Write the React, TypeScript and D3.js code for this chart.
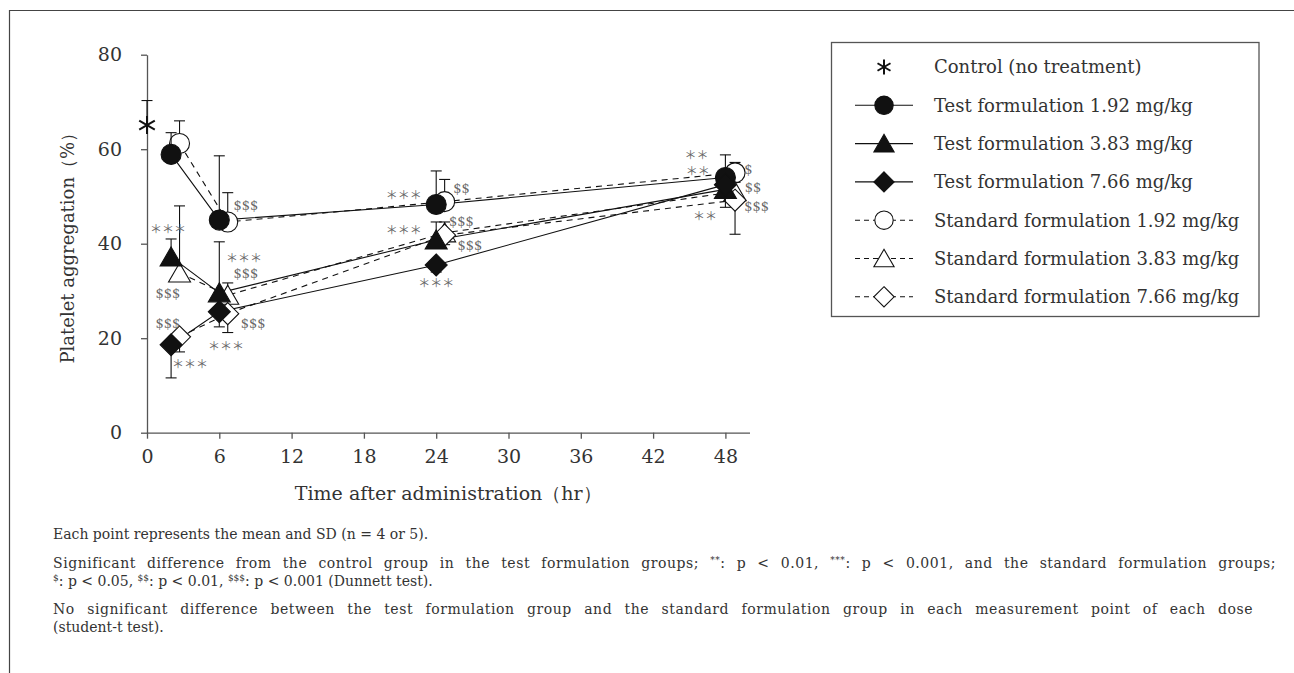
import React, { useEffect, useRef } from "react";
import * as d3 from "d3";

// time points (hr); standard formulation plotted slightly offset to the right
const testTimes = [2, 6, 24, 48];
const stdTimes = [2.7, 6.7, 24.7, 48.8];

const xTicks = [0, 6, 12, 18, 24, 30, 36, 42, 48];
const yTicks = [0, 20, 40, 60, 80];

const controlTime = 0;
const controlMean = 65.1;
const controlSD = 5.2;

// mean and SD for each group
const test192Mean = [58.9, 45.0, 48.3, 54.0];
const test192SD = [4.6, 13.6, 7.1, 4.8];
const test383Mean = [37.2, 29.6, 40.8, 51.5];
const test383SD = [3.8, 10.8, 3.8, 2.0];
const test766Mean = [18.6, 25.6, 35.5, 52.5];
const test766SD = [7.0, 3.2, 1.5, 4.8];
const std192Mean = [61.2, 44.6, 48.9, 55.0];
const std192SD = [4.8, 6.2, 4.7, 2.2];
const std383Mean = [33.8, 29.1, 42.3, 51.0];
const std383SD = [14.2, 2.6, 2.3, 2.0];
const std766Mean = [20.3, 25.2, 41.8, 49.2];
const std766SD = [3.2, 4.0, 2.0, 7.2];

// significance marks, placed in data units (time, %)
const marks = [
  { t: 1.74, v: 43.3, text: "***" },
  { t: 1.74, v: 29.5, text: "$$$" },
  { t: 1.74, v: 23.2, text: "$$$" },
  { t: 3.57, v: 14.7, text: "***" },
  { t: 8.2, v: 48.0, text: "$$$" },
  { t: 8.05, v: 37.0, text: "***" },
  { t: 8.2, v: 33.6, text: "$$$" },
  { t: 8.8, v: 23.2, text: "$$$" },
  { t: 6.56, v: 18.4, text: "***" },
  { t: 21.3, v: 50.5, text: "***" },
  { t: 21.3, v: 43.1, text: "***" },
  { t: 26.1, v: 51.6, text: "$$" },
  { t: 26.1, v: 44.6, text: "$$$" },
  { t: 26.8, v: 39.7, text: "$$$" },
  { t: 24.0, v: 31.7, text: "***" },
  { t: 45.6, v: 58.8, text: "**" },
  { t: 45.7, v: 55.4, text: "**" },
  { t: 49.9, v: 55.8, text: "$" },
  { t: 50.3, v: 52.0, text: "$$" },
  { t: 50.6, v: 47.8, text: "$$$" },
  { t: 46.3, v: 46.0, text: "**" },
];

type Shape = "circle" | "triangle" | "diamond";

const seriesList = [
  { name: "Standard formulation 1.92 mg/kg", shape: "circle" as Shape, filled: false, dashed: true, times: stdTimes, mean: std192Mean, sd: std192SD, dir: 1 },
  { name: "Standard formulation 3.83 mg/kg", shape: "triangle" as Shape, filled: false, dashed: true, times: stdTimes, mean: std383Mean, sd: std383SD, dir: 1 },
  { name: "Standard formulation 7.66 mg/kg", shape: "diamond" as Shape, filled: false, dashed: true, times: stdTimes, mean: std766Mean, sd: std766SD, dir: -1 },
  { name: "Test formulation 1.92 mg/kg", shape: "circle" as Shape, filled: true, dashed: false, times: testTimes, mean: test192Mean, sd: test192SD, dir: 1 },
  { name: "Test formulation 3.83 mg/kg", shape: "triangle" as Shape, filled: true, dashed: false, times: testTimes, mean: test383Mean, sd: test383SD, dir: 1 },
  { name: "Test formulation 7.66 mg/kg", shape: "diamond" as Shape, filled: true, dashed: false, times: testTimes, mean: test766Mean, sd: test766SD, dir: -1 },
];

const legendOrder = [
  "Control (no treatment)",
  "Test formulation 1.92 mg/kg",
  "Test formulation 3.83 mg/kg",
  "Test formulation 7.66 mg/kg",
  "Standard formulation 1.92 mg/kg",
  "Standard formulation 3.83 mg/kg",
  "Standard formulation 7.66 mg/kg",
];

const SERIF = "DejaVu Serif, Liberation Serif, serif";

function shapePath(shape: Shape, s = 1) {
  if (shape === "circle") {
    const r = 10 * s;
    return `M${-r},0A${r},${r} 0 1,0 ${r},0A${r},${r} 0 1,0 ${-r},0Z`;
  }
  if (shape === "triangle") {
    return `M0,${-10 * s}L${11 * s},${9 * s}L${-11 * s},${9 * s}Z`;
  }
  return `M0,${-11 * s}L${11 * s},0L0,${11 * s}L${-11 * s},0Z`;
}

function asterisk(g: any, cx: number, cy: number, r: number) {
  [90, 30, 150].forEach((a) => {
    const rad = (a * Math.PI) / 180;
    g.append("line")
      .attr("x1", cx - r * Math.cos(rad))
      .attr("y1", cy - r * Math.sin(rad))
      .attr("x2", cx + r * Math.cos(rad))
      .attr("y2", cy + r * Math.sin(rad))
      .attr("stroke", "#111")
      .attr("stroke-width", 2);
  });
}

// spread a line so it fills the given width (justified text)
function justify(t: any, width: number) {
  const node = t.node() as SVGTextElement;
  const txt = node.textContent || "";
  const natural = node.getComputedTextLength();
  const ls = Math.min(0.6, ((width - natural) * 0.35) / txt.length);
  t.attr("letter-spacing", ls);
  const spaced = node.getComputedTextLength();
  const spaces = txt.split(" ").length - 1;
  if (spaces > 0) t.attr("word-spacing", (width - spaced) / spaces);
}

export default function App() {
  const ref = useRef<SVGSVGElement>(null);

  useEffect(() => {
    const svg = d3.select(ref.current);
    svg.selectAll("*").remove();

    const x = d3.scaleLinear().domain([0, 50]).range([147, 749.5]);
    const y = d3.scaleLinear().domain([0, 80]).range([432.7, 54.7]);

    // outer frame (top + left rule)
    svg.append("path")
      .attr("d", "M9.5,673V10.5H1294")
      .attr("fill", "none")
      .attr("stroke", "#444")
      .attr("stroke-width", 1.2);

    // axes
    const yAxis = svg.append("g")
      .attr("transform", `translate(${x(0)},0)`)
      .call(d3.axisLeft(y).tickValues(yTicks).tickSize(6).tickSizeOuter(0).tickPadding(19));
    const xAxis = svg.append("g")
      .attr("transform", `translate(0,${y(0)})`)
      .call(d3.axisBottom(x).tickValues(xTicks).tickSize(6).tickSizeOuter(0).tickPadding(11));
    [yAxis, xAxis].forEach((a) => {
      a.attr("font-family", SERIF).attr("font-size", 19);
      a.selectAll(".domain, .tick line").attr("stroke", "#555").attr("stroke-width", 1.3);
      a.selectAll("text").attr("fill", "#333");
    });

    svg.append("text")
      .attr("transform", `translate(74,${(y(0) + y(80)) / 2}) rotate(-90)`)
      .attr("text-anchor", "middle")
      .attr("fill", "#333")
      .attr("font-family", SERIF)
      .attr("font-size", 18)
      .text("Platelet aggregation（%）");

    svg.append("text")
      .attr("x", (x(0) + x(50)) / 2)
      .attr("y", 500)
      .attr("text-anchor", "middle")
      .attr("fill", "#333")
      .attr("font-family", SERIF)
      .attr("font-size", 19)
      .text("Time after administration（hr）");

    const plot = svg.append("g");

    // lines
    const line = d3.line<[number, number]>().x((d) => x(d[0])).y((d) => y(d[1]));
    seriesList.forEach((s) => {
      plot.append("path")
        .datum(s.times.map((t, i) => [t, s.mean[i]] as [number, number]))
        .attr("d", line)
        .attr("fill", "none")
        .attr("stroke", "#111")
        .attr("stroke-width", 1.1)
        .attr("stroke-dasharray", s.dashed ? "6,5" : null);
    });

    // error bars + markers
    const errBar = (t: number, m: number, sd: number, dir: number) => {
      const yEnd = y(m + dir * sd);
      plot.append("line")
        .attr("x1", x(t)).attr("x2", x(t))
        .attr("y1", y(m)).attr("y2", yEnd)
        .attr("stroke", "#111").attr("stroke-width", 1.1);
      plot.append("line")
        .attr("x1", x(t) - 5.5).attr("x2", x(t) + 5.5)
        .attr("y1", yEnd).attr("y2", yEnd)
        .attr("stroke", "#111").attr("stroke-width", 1.1);
    };

    seriesList.forEach((s) => {
      s.times.forEach((t, i) => {
        errBar(t, s.mean[i], s.sd[i], s.dir);
        plot.append("path")
          .attr("d", shapePath(s.shape))
          .attr("transform", `translate(${x(t)},${y(s.mean[i])})`)
          .attr("fill", s.filled ? "#111" : "#fff")
          .attr("stroke", "#111")
          .attr("stroke-width", 1.1);
      });
    });

    errBar(controlTime, controlMean, controlSD, 1);
    asterisk(plot, x(controlTime), y(controlMean), 9);

    // significance marks (slight opacity -> grayscale antialiasing)
    const mk = svg.append("g").attr("opacity", 0.999);
    marks.forEach((m) => {
      const isStar = m.text.startsWith("*");
      mk.append("text")
        .attr("x", x(m.t))
        .attr("y", y(m.v))
        .attr("text-anchor", "middle")
        .attr("dominant-baseline", "central")
        .attr("fill", "#666")
        .attr("font-family", isStar ? "Noto Sans CJK JP, sans-serif" : SERIF)
        .attr("font-size", isStar ? 12 : 13)
        .text(isStar ? m.text.replace(/\*/g, "＊") : m.text);
    });

    // legend
    const lg = svg.append("g");
    lg.append("rect")
      .attr("x", 831.5).attr("y", 42.5)
      .attr("width", 427.5).attr("height", 274)
      .attr("fill", "#fff")
      .attr("stroke", "#555")
      .attr("stroke-width", 1.3);
    legendOrder.forEach((name, i) => {
      const cy = 67 + i * 38.3;
      const row = lg.append("g");
      if (i === 0) {
        asterisk(row, 884, cy, 7.5);
      } else {
        const s = seriesList.find((d) => d.name === name)!;
        row.append("line")
          .attr("x1", 855).attr("x2", 913)
          .attr("y1", cy).attr("y2", cy)
          .attr("stroke", "#111").attr("stroke-width", 1.1)
          .attr("stroke-dasharray", s.dashed ? "5,4" : null);
        row.append("path")
          .attr("d", shapePath(s.shape, 0.92))
          .attr("transform", `translate(884,${cy})`)
          .attr("fill", s.filled ? "#111" : "#fff")
          .attr("stroke", "#111")
          .attr("stroke-width", 1.1);
      }
      row.append("text")
        .attr("x", 934)
        .attr("y", cy)
        .attr("dy", "0.36em")
        .attr("fill", "#333")
        .attr("font-family", SERIF)
        .attr("font-size", 18)
        .text(name);
    });

    // footnotes
    const fn = svg.append("g")
      .attr("fill", "#333")
      .attr("font-family", SERIF)
      .attr("font-size", 14);
    const sup = (t: any, s: string) =>
      t.append("tspan").attr("baseline-shift", "super").attr("font-size", 9).text(s);

    fn.append("text").attr("x", 53).attr("y", 539)
      .text("Each point represents the mean and SD (n = 4 or 5).");

    const l2 = fn.append("text").attr("x", 53).attr("y", 568);
    l2.append("tspan").text("Significant difference from the control group in the test formulation groups; ");
    sup(l2, "**");
    l2.append("tspan").text(": p < 0.01, ");
    sup(l2, "***");
    l2.append("tspan").text(": p < 0.001, and the standard formulation groups;");
    justify(l2, 1223);

    const l3 = fn.append("text").attr("x", 53).attr("y", 586);
    sup(l3, "$");
    l3.append("tspan").text(": p < 0.05, ");
    sup(l3, "$$");
    l3.append("tspan").text(": p < 0.01, ");
    sup(l3, "$$$");
    l3.append("tspan").text(": p < 0.001 (Dunnett test).");

    const l4 = fn.append("text").attr("x", 53).attr("y", 614)
      .text("No significant difference between the test formulation group and the standard formulation group in each measurement point of each dose");
    justify(l4, 1200);
    fn.append("text").attr("x", 53).attr("y", 632).text("(student-t test).");
  }, []);

  return (
    <svg
      ref={ref}
      width={1294}
      height={673}
      style={{ position: "absolute", left: 0, top: 0, background: "#fff" }}
    />
  );
}
